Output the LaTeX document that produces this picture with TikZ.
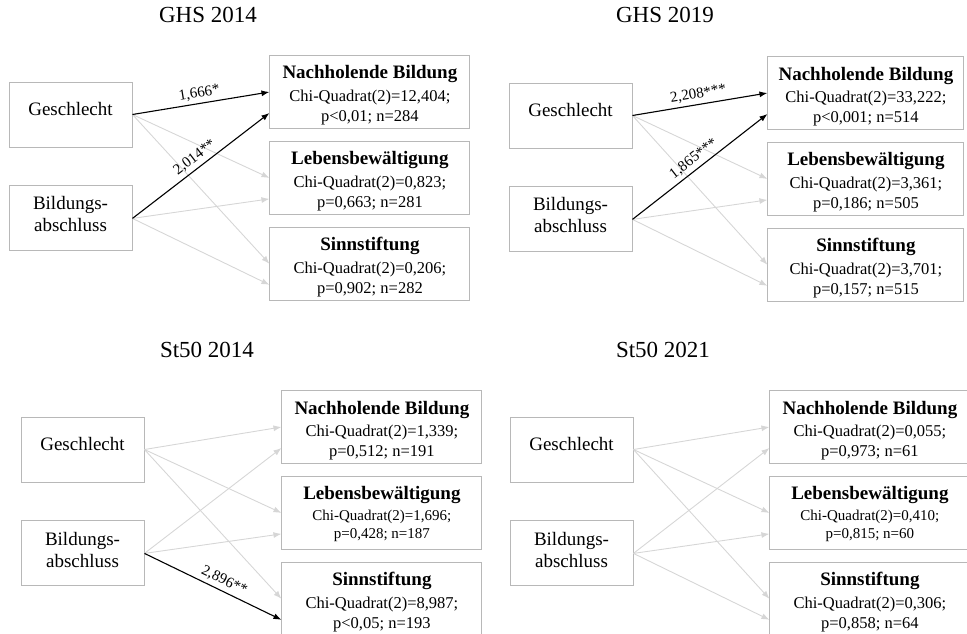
\documentclass[tikz,border=0pt]{standalone}
\usepackage{fontspec}
\setmainfont{Liberation Serif}
\usetikzlibrary{arrows.meta, positioning}

\newcommand{\ohead}[2][20pt]{{\rule{0pt}{#1}\fontsize{19}{22}\selectfont\bfseries #2}}

\begin{document}
\begin{tikzpicture}[x=1pt, y=-1pt, >={Latex[length=8pt,width=6pt]},
    predbox/.style={draw=black!28, line width=0.9pt, minimum width=123pt, minimum height=65pt,
      align=center, inner sep=2pt, font=\fontsize{19}{22}\selectfont},
    outbox/.style={draw=black!28, line width=0.9pt, minimum width=200pt, minimum height=73pt,
      align=center, inner sep=2pt, font=\fontsize{16.5}{20}\selectfont},
    paneltitle/.style={font=\fontsize{23}{26}\selectfont},
    sig/.style={->, line width=1.1pt, black},
    nonsig/.style={->, line width=0.9pt, black!16},
    coef/.style={midway, above, sloped, inner sep=3.5pt, font=\fontsize{15}{17}\selectfont}]
    \useasboundingbox (0,0) rectangle (967,633);

    % GHS 2014
    \begin{scope}[shift={(70.5,114.5)}]
        \node[paneltitle] (t1) at (137.5,-99.5) {GHS 2014};
        \node[predbox, text depth=11pt] (g1) {Geschlecht};
        \node[predbox, below=38pt of g1] (b1) {Bildungs-\\abschluss\rule[-8pt]{0pt}{8pt}};
        \node[outbox, right=137pt of g1, yshift=22.5pt] (n1) {\ohead{Nachholende Bildung}\\[2.5pt]Chi-Quadrat(2)=12,404;\\p<0,01; n=284};
        \node[outbox, below=12pt of n1] (l1) {\ohead{Lebensbewältigung}\\[2.5pt]Chi-Quadrat(2)=0,823;\\p=0,663; n=281};
        \node[outbox, below=12pt of l1] (s1) {\ohead{Sinnstiftung}\\[2.5pt]Chi-Quadrat(2)=0,206;\\p=0,902; n=282};

        \draw[nonsig] (g1.east) -- (l1.west);
        \draw[nonsig] (g1.east) -- (s1.west);
        \draw[nonsig] (b1.east) -- ([yshift=-21pt]l1.west);
        \draw[nonsig] (b1.east) -- ([yshift=-21pt]s1.west);
        \draw[sig] (g1.east) -- (n1.west) node[coef] {1,666*};
        \draw[sig] (b1.east) -- ([yshift=-21pt]n1.west) node[coef] {2,014**};
    \end{scope}

    % GHS 2019
    \begin{scope}[shift={(570.5,115.5)}]
        \node[paneltitle] (t2) at (94.5,-100.5) {GHS 2019};
        \node[predbox, text depth=11pt] (g2) {Geschlecht};
        \node[predbox, below=38pt of g2] (b2) {Bildungs-\\abschluss\rule[-8pt]{0pt}{8pt}};
        \node[outbox, minimum width=196pt, right=135pt of g2, yshift=22.5pt] (n2) {\ohead{Nachholende Bildung}\\[2.5pt]Chi-Quadrat(2)=33,222;\\p<0,001; n=514};
        \node[outbox, minimum width=196pt, below=12pt of n2] (l2) {\ohead{Lebensbewältigung}\\[2.5pt]Chi-Quadrat(2)=3,361;\\p=0,186; n=505};
        \node[outbox, minimum width=196pt, below=12pt of l2] (s2) {\ohead{Sinnstiftung}\\[2.5pt]Chi-Quadrat(2)=3,701;\\p=0,157; n=515};

        \draw[nonsig] (g2.east) -- (l2.west);
        \draw[nonsig] (g2.east) -- (s2.west);
        \draw[nonsig] (b2.east) -- ([yshift=-21pt]l2.west);
        \draw[nonsig] (b2.east) -- ([yshift=-21pt]s2.west);
        \draw[sig] (g2.east) -- (n2.west) node[coef] {2,208***};
        \draw[sig] (b2.east) -- ([yshift=-21pt]n2.west) node[coef] {1,865***};
    \end{scope}

    % St50 2014
    \begin{scope}[shift={(82.5,449.5)}]
        \node[paneltitle] (t3) at (124.5,-99.5) {St50 2014};
        \node[predbox, text depth=11pt] (g3) {Geschlecht};
        \node[predbox, below=38pt of g3] (b3) {Bildungs-\\abschluss\rule[-8pt]{0pt}{8pt}};
        \node[outbox, right=137pt of g3, yshift=22.5pt] (n3) {\ohead{Nachholende Bildung}\\[2.5pt]Chi-Quadrat(2)=1,339;\\p=0,512; n=191};
        \node[outbox, below=12pt of n3, font=\fontsize{15}{18}\selectfont] (l3) {\ohead[15pt]{Lebensbewältigung}\\[3.5pt]Chi-Quadrat(2)=1,696;\\p=0,428; n=187};
        \node[outbox, below=12pt of l3] (s3) {\ohead{Sinnstiftung}\\[2.5pt]Chi-Quadrat(2)=8,987;\\p<0,05; n=193};

        \draw[nonsig] (g3.east) -- (n3.west);
        \draw[nonsig] (g3.east) -- (l3.west);
        \draw[nonsig] (g3.east) -- (s3.west);
        \draw[nonsig] (b3.east) -- ([yshift=-21pt]n3.west);
        \draw[nonsig] (b3.east) -- ([yshift=-21pt]l3.west);
        \draw[sig] (b3.east) -- ([yshift=-21pt]s3.west) node[coef, pos=0.55] {2,896**};
    \end{scope}

    % St50 2021
    \begin{scope}[shift={(571.5,449.5)}]
        \node[paneltitle] (t4) at (91.5,-99.5) {St50 2021};
        \node[predbox, text depth=11pt] (g4) {Geschlecht};
        \node[predbox, below=38pt of g4] (b4) {Bildungs-\\abschluss\rule[-8pt]{0pt}{8pt}};
        \node[outbox, right=136pt of g4, yshift=22.5pt] (n4) {\ohead{Nachholende Bildung}\\[2.5pt]Chi-Quadrat(2)=0,055;\\p=0,973; n=61};
        \node[outbox, below=12pt of n4, font=\fontsize{15}{18}\selectfont] (l4) {\ohead[15pt]{Lebensbewältigung}\\[3.5pt]Chi-Quadrat(2)=0,410;\\p=0,815; n=60};
        \node[outbox, below=12pt of l4] (s4) {\ohead{Sinnstiftung}\\[2.5pt]Chi-Quadrat(2)=0,306;\\p=0,858; n=64};

        \draw[nonsig] (g4.east) -- (n4.west);
        \draw[nonsig] (g4.east) -- (l4.west);
        \draw[nonsig] (g4.east) -- (s4.west);
        \draw[nonsig] (b4.east) -- ([yshift=-21pt]n4.west);
        \draw[nonsig] (b4.east) -- ([yshift=-21pt]l4.west);
        \draw[nonsig] (b4.east) -- ([yshift=-21pt]s4.west);
    \end{scope}
\end{tikzpicture}
\end{document}
